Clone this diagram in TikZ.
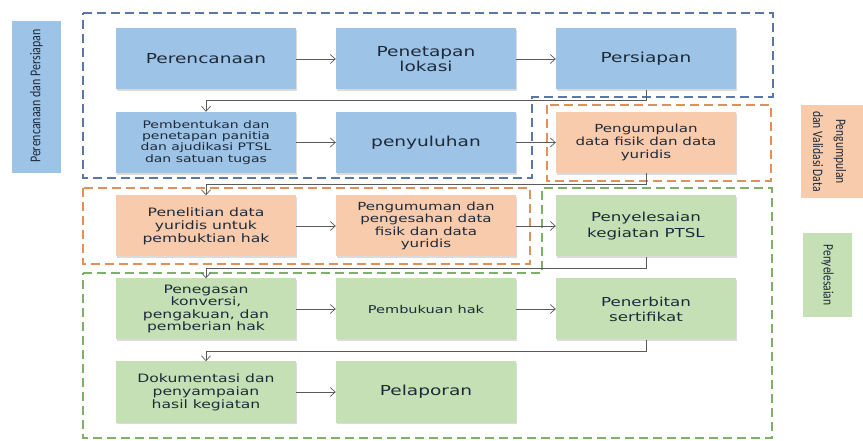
\documentclass[tikz,border=0pt]{standalone}
\usepackage{fontspec}
\usetikzlibrary{arrows.meta,shadows}
\newfontfamily\boxfont[FakeStretch=1.35]{DejaVu Sans}
\newfontfamily\sidefont[FakeStretch=0.8]{Carlito}
\definecolor{bluefill}{HTML}{9DC3E6}
\definecolor{orangefill}{HTML}{F8CBAD}
\definecolor{greenfill}{HTML}{C5E0B4}
\definecolor{bluedash}{HTML}{5A77A8}
\definecolor{orangedash}{HTML}{E0915A}
\definecolor{greendash}{HTML}{7FB06A}
\definecolor{txt}{HTML}{1E2A3A}
\definecolor{conn}{HTML}{5A5A5A}
\tikzset{
  stepbox/.style={minimum width=180bp, minimum height=61bp, inner sep=2bp, align=center,
    text=txt, font=\boxfont\fontsize{11}{12.6}\selectfont,
    drop shadow={opacity=0.28, shadow xshift=1.2bp, shadow yshift=-1.6bp}},
  bigtext/.style={font=\boxfont\fontsize{13.8}{15}\selectfont},
  bluebox/.style={stepbox, fill=bluefill},
  orangebox/.style={stepbox, fill=orangefill},
  greenbox/.style={stepbox, fill=greenfill},
  region/.style={dash pattern=on 9bp off 5bp, line width=1.4bp},
  link/.style={draw=conn, line width=0.7bp, -{Straight Barb[length=5bp,width=9bp]}},
  sidelabel/.style={inner sep=0pt, text=txt, align=center},
}
\begin{document}
\begin{tikzpicture}[x=1bp, y=-1bp]
\useasboundingbox (0,0) rectangle (863,441);
\fill[white] (0,0) rectangle (863,441);

% dashed regions
\draw[region, draw=bluedash] (83,13) -- (773,13) -- (773,97) -- (532,97) -- (532,178) -- (83,178) -- cycle;
\draw[region, draw=orangedash] (547,105) rectangle (771,181);
\draw[region, draw=orangedash] (83,188) rectangle (530,264);
\draw[region, draw=greendash] (83,273) -- (542,273) -- (542,188) -- (772,188) -- (772,438) -- (83,438) -- cycle;

% row 1
\node[bluebox, bigtext] (perencanaan) at (206,59) {Perencanaan};
\node[bluebox, bigtext] (penetapan) at (426,59) {Penetapan\\lokasi};
\node[bluebox, bigtext] (persiapan) at (646,59) {Persiapan};
% row 2
\node[bluebox, font=\boxfont\fontsize{10.4}{11.2}\selectfont] (pembentukan) at (206,142.5) {Pembentukan dan\\penetapan panitia\\dan ajudikasi PTSL\\dan satuan tugas};
\node[bluebox, bigtext] (penyuluhan) at (426,142.5) {penyuluhan};
\node[orangebox, font=\boxfont\fontsize{11.2}{13.3}\selectfont] (pengumpulan) at (646,142.5) {Pengumpulan\\data fisik dan data\\yuridis};
% row 3
\node[orangebox, font=\boxfont\fontsize{11.6}{13}\selectfont] (penelitian) at (206,226) {Penelitian data\\yuridis untuk\\pembuktian hak};
\node[orangebox, font=\boxfont\fontsize{11.2}{12.5}\selectfont] (pengumuman) at (426,226) {Pengumuman dan\\pengesahan data\\fisik dan data\\yuridis};
\node[greenbox, font=\boxfont\fontsize{12.4}{15.5}\selectfont] (penyelesaian) at (646,226) {Penyelesaian\\kegiatan PTSL};
% row 4
\node[greenbox, font=\boxfont\fontsize{11.6}{12.7}\selectfont] (penegasan) at (206,309) {Penegasan\\konversi,\\pengakuan, dan\\pemberian hak};
\node[greenbox, font=\boxfont\fontsize{10.8}{12}\selectfont] (pembukuan) at (426,309) {Pembukuan hak};
\node[greenbox, font=\boxfont\fontsize{12.4}{15}\selectfont] (penerbitan) at (646,309) {Penerbitan\\sertifikat};
% row 5
\node[greenbox, font=\boxfont\fontsize{11.6}{13}\selectfont] (dokumentasi) at (206,392) {Dokumentasi dan\\penyampaian\\hasil kegiatan};
\node[greenbox, bigtext] (pelaporan) at (426,392) {Pelaporan};

% connectors
\draw[link] (perencanaan) -- (penetapan);
\draw[link] (penetapan) -- (persiapan);
\draw[link] (persiapan.south) -- ++(0,10.5) -| (pembentukan.north);
\draw[link] (pembentukan) -- (penyuluhan);
\draw[link] (penyuluhan) -- (pengumpulan);
\draw[link] (pengumpulan.south) -- ++(0,11) -| (penelitian.north);
\draw[link] (penelitian) -- (pengumuman);
\draw[link] (pengumuman) -- (penyelesaian);
\draw[link] (penyelesaian.south) -- ++(0,11.5) -| (penegasan.north);
\draw[link] (penegasan) -- (pembukuan);
\draw[link] (pembukuan) -- (penerbitan);
\draw[link] (penerbitan.south) -- ++(0,11.5) -| (dokumentasi.north);
\draw[link] (dokumentasi) -- (pelaporan);

% side labels
\fill[bluefill] (12,21) rectangle (61,173);
\node[sidelabel, rotate=90, font=\sidefont\fontsize{15}{17}\selectfont] (labelA) at (36.5,96) {Perencanaan dan Persiapan};
\fill[orangefill] (801,105) rectangle (863,198);
\node[sidelabel, rotate=-90, font=\sidefont\fontsize{14.5}{23}\selectfont] (labelB) at (829.5,151.5) {Pengumpulan\\dan Validasi Data};
\fill[greenfill] (803,233) rectangle (852,317);
\node[sidelabel, rotate=-90, font=\sidefont\fontsize{14.5}{17}\selectfont] (labelC) at (827.5,275) {Penyelesaian};
\end{tikzpicture}
\end{document}
